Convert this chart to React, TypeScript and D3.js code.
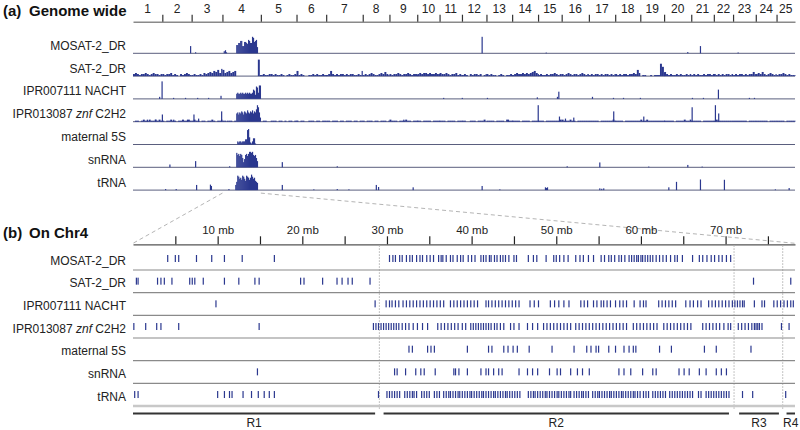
import React, { useEffect, useRef } from "react";
import * as d3 from "d3";

const WIDTH = 800;
const HEIGHT = 430;
const LEFT = 133;
const RIGHT = 795;
const FONT = "'Liberation Sans', Arial, Helvetica, sans-serif";
const BAR_COLOR = "#2b388f";

// zebrafish chromosomes and their sizes in Mb
const chromLabels = ["1", "2", "3", "4", "5", "6", "7", "8", "9", "10", "11", "12", "13",
  "14", "15", "16", "17", "18", "19", "20", "21", "22", "23", "24", "25"];
const chromLengths = [59.6, 59.6, 62.6, 78.1, 72.5, 60.3, 74.3, 54.3, 56.5, 45.4, 45.5, 49.8,
  52.2, 52.7, 48.0, 55.3, 53.5, 51.0, 48.4, 55.2, 45.9, 39.1, 46.2, 42.2, 37.5];

const trackNames = ["MOSAT-2_DR", "SAT-2_DR", "IPR007111 NACHT", "IPR013087 znf C2H2",
  "maternal 5S", "snRNA", "tRNA"];

// ---- (a) genome-wide density ----
// SAT-2_DR density, 4 Mb bins per chromosome
const satBins = [
  [2, 3, 2, 1, 2, 2, 3, 2, 1, 2, 3, 2, 2, 1, 2],
  [2, 1, 2, 2, 3, 1, 2, 1, 0, 2, 1, 2, 3, 2, 1],
  [1, 2, 1, 1, 2, 1, 3, 2, 3, 4, 3, 5, 4, 6, 3, 7],
  [6, 3, 4, 5, 3, 4, 5, 0, 0, 0, 0, 0, 0, 0, 0, 0, 0, 0, 16, 1],
  [1, 2, 1, 1, 2, 2, 1, 2, 1, 1, 2, 1, 0, 1, 2, 1, 1, 2, 1],
  [5, 1, 2, 1, 0, 0, 1, 1, 2, 1, 2, 1, 1, 2, 1, 1],
  [1, 2, 5, 2, 1, 2, 1, 2, 2, 1, 2, 1, 2, 2, 1, 1, 2, 1, 5],
  [1, 2, 1, 2, 3, 2, 1, 1, 2, 3, 2, 4, 2, 1],
  [2, 1, 2, 2, 3, 2, 1, 2, 2, 3, 2, 1, 2, 2, 1],
  [2, 3, 2, 3, 3, 2, 3, 2, 2, 3, 2, 2],
  [3, 2, 2, 3, 2, 1, 2, 2, 3, 1, 2, 1],
  [1, 2, 1, 0, 2, 1, 2, 2, 1, 2, 0, 1, 2],
  [2, 1, 2, 1, 1, 0, 1, 2, 1, 0, 1, 1, 2, 1],
  [1, 2, 3, 2, 2, 3, 2, 3, 2, 3, 4, 5, 3, 2],
  [1, 2, 1, 1, 2, 1, 2, 2, 3, 2, 1, 2],
  [2, 1, 2, 3, 2, 1, 2, 2, 1, 2, 3, 2, 1, 2],
  [1, 2, 1, 2, 2, 1, 2, 1, 2, 2, 1, 2, 1, 2],
  [2, 1, 2, 1, 2, 2, 1, 2, 2, 3, 2, 6, 3],
  [0, 1, 1, 0, 0, 1, 0, 1, 1, 1, 12, 9, 3],
  [4, 2, 1, 2, 1, 1, 2, 1, 2, 1, 1, 2, 1, 2],
  [1, 2, 1, 2, 1, 1, 2, 1, 2, 2, 1, 2],
  [2, 1, 2, 1, 2, 1, 2, 2, 1, 2],
  [1, 2, 1, 2, 2, 1, 2, 1, 2, 2, 4, 2],
  [2, 3, 2, 4, 2, 1, 2, 3, 2, 1, 2],
  [1, 2, 2, 3, 2, 1, 2, 1, 1, 1],
];

// znf C2H2 background density, 4 Mb bins per chromosome
const znfBins = [
  [0, 1, 1, 0, 1, 2, 1, 1, 2, 1, 1, 2, 1, 2, 1],
  [1, 0, 1, 1, 2, 1, 1, 0, 1, 1, 2, 1, 1, 2, 1],
  [1, 2, 1, 1, 0, 1, 1, 0, 1, 1, 2, 1, 0, 1, 1, 2],
  [1, 1, 0, 1, 1, 0, 1],
  [0, 1, 1, 0, 0, 1, 1, 1, 0, 1, 1, 0, 1, 0, 1, 1, 0, 1, 1],
  [1, 0, 1, 1, 0, 0, 1, 1, 1, 0, 1, 1, 0, 1, 1, 0],
  [1, 1, 0, 1, 1, 1, 0, 1, 1, 0, 1, 1, 1, 0, 1, 1, 0, 1, 1],
  [1, 0, 1, 1, 1, 0, 1, 1, 0, 1, 1, 1, 0, 1],
  [2, 1, 1, 1, 0, 1, 1, 1, 2, 1, 1, 0, 1, 1, 1],
  [1, 1, 0, 1, 1, 1, 1, 0, 1, 1, 1, 1],
  [1, 1, 1, 0, 1, 1, 1, 1, 0, 1, 1, 1],
  [1, 1, 0, 0, 1, 1, 1, 0, 1, 1, 1, 2],
  [1, 1, 1, 1, 0, 1, 1, 1, 1, 0, 2, 1, 1, 1],
  [1, 1, 1, 1, 0, 1, 1, 1, 1, 0, 1, 1, 1, 1],
  [1, 1, 1, 0, 1, 1, 1, 1, 1, 1, 1, 2],
  [2, 1, 1, 1, 2, 1, 1, 0, 1, 1, 1, 1, 1, 1],
  [1, 1, 1, 1, 1, 0, 1, 1, 1, 1, 1, 1, 2, 1],
  [1, 1, 1, 1, 0, 1, 1, 1, 1, 1, 1, 1, 1],
  [2, 1, 1, 2, 1, 1, 1, 1, 1, 1, 1, 1, 1],
  [1, 1, 1, 1, 1, 0, 1, 1, 1, 1, 2, 1, 1, 2],
  [1, 1, 1, 1, 1, 0, 1, 1, 1, 1, 1, 1],
  [1, 2, 1, 1, 1, 1, 1, 1, 1, 1],
  [1, 1, 1, 1, 1, 1, 1, 0, 1, 1, 1, 1],
  [1, 1, 1, 1, 1, 1, 0, 1, 1, 1, 1],
  [1, 1, 1, 1, 0, 1, 1, 1, 1, 1],
];

// isolated peaks: [chromosome, position Mb, density]
const mosatPeaks = [[2, 56.3, 7], [3, 6.9, 1], [4, 2.5, 2], [4, 5.0, 3], [4, 7.0, 1],
  [12, 39.8, 16], [15, 15.4, 0.7], [20, 46.9, 1.2], [21, 17.5, 7], [23, 9.1, 0.8]];
const nachtPeaks = [[1, 53, 2], [1, 57.9, 17], [2, 21.7, 1], [2, 46, 1], [3, 11, 1], [3, 33.3, 1],
  [3, 58.5, 3], [11, 7.1, 1], [11, 45, 1], [13, 0.8, 1], [14, 50, 1.5], [15, 38.2, 2], [15, 41, 7],
  [17, 6.1, 2], [17, 48.8, 1], [18, 15.7, 1], [18, 50, 1], [21, 1.2, 1], [21, 23.6, 1], [22, 8.1, 9],
  [23, 32, 1], [23, 42.3, 1]];
const znfPeaks = [[1, 28, 2], [1, 45, 2], [1, 58.5, 7], [2, 22, 2], [2, 50, 2], [3, 3.5, 7], [3, 13, 3],
  [3, 59.8, 10], [4, 9.3, 1], [9, 28, 2], [13, 43.5, 2], [14, 51.8, 16], [15, 42.3, 5], [16, 6.5, 3],
  [16, 23.4, 4], [17, 49.3, 10], [19, 5.9, 5], [21, 0.6, 14], [22, 2, 16], [22, 8.7, 8]];
const snrnaPeaks = [[2, 14.2, 2.7], [3, 6.9, 6], [4, 13.5, 1], [5, 42.4, 5], [7, 21.3, 1], [16, 10, 1],
  [17, 21, 4.7], [19, 16, 0.7], [20, 47, 2.3], [21, 21, 0.7]];
const trnaPeaks = [[2, 5.5, 1], [2, 27, 1], [3, 8.9, 5], [3, 37, 5.3], [3, 39, 4], [4, 12, 1],
  [5, 42.4, 5], [6, 34, 0.7], [7, 21.3, 1], [7, 45, 0.7], [8, 26.4, 5], [8, 31, 3], [9, 47, 2.7],
  [12, 39.8, 4], [13, 26, 0.7], [15, 13.8, 2.7], [15, 16, 2], [15, 18, 2.7], [17, 21, 1.7],
  [17, 25, 1.3], [17, 29, 1.7], [20, 8.4, 2.7], [20, 24, 8], [21, 17.5, 10.3], [22, 20.3, 10],
  [24, 38.6, 0.7], [25, 24.4, 2]];

// chr4 cluster densities, 2 Mb bins from the given start
const mosatChr4Start = 28;
const mosatChr4 = [8, 8, 10, 10, 12, 12, 7, 7, 11, 11, 10, 9, 13, 12, 10, 10, 16, 15, 11, 12, 13, 6];
const nachtChr4Start = 28;
const nachtChr4 = [5, 6, 5, 5, 6, 5, 6, 5, 5, 6, 5, 6, 5, 6, 5, 5, 6, 9, 8, 4, 12, 11, 6, 13, 13];
const znfChr4Start = 28;
const znfChr4 = [8, 9, 7, 9, 8, 10, 9, 7, 10, 9, 8, 11, 9, 8, 10, 9, 11, 8, 10, 9, 12, 16, 14, 9, 4];
const fiveSChr4Start = 30;
const fiveSChr4 = [3, 2, 3, 3, 2, 3, 3, 3, 5, 5, 14, 15, 7, 2, 1, 3, 6, 6, 1];
const snrnaChr4Start = 28;
const snrnaChr4 = [14, 12, 13, 11, 13, 12, 9, 5, 8, 12, 13, 11, 13, 15, 15, 14, 15, 12, 11, 12, 9, 6];
const trnaChr4Start = 26;
const trnaChr4 = [5, 8, 14, 13, 11, 12, 10, 14, 13, 11, 9, 14, 13, 12, 10, 12, 15, 13, 11, 12, 9, 8, 7];

// ---- (b) feature positions along chr4 (Mb) ----
const chr4Length = 78.2;
const chr4Mosat = [4.1, 5.0, 5.4, 7.5, 9.3, 10.8, 12.9, 16.7, 30.3, 30.7, 31.0, 31.5, 31.8, 32.3, 32.7,
  33.0, 33.5, 33.9, 34.2, 34.7, 35.1, 35.5, 36.1, 36.4, 36.6, 37.0, 37.5, 37.8, 38.3, 38.7, 39.0, 39.6,
  40.0, 40.4, 41.1, 41.4, 41.7, 42.1, 42.3, 42.7, 43.0, 43.4, 43.7, 44.0, 44.4, 45.0, 45.3, 46.7, 47.3,
  47.7, 48.8, 49.7, 50.0, 50.4, 50.9, 51.4, 52.3, 52.8, 53.2, 53.8, 54.4, 55.3, 55.7, 56.2, 56.5, 56.9,
  57.4, 57.7, 58.1, 58.6, 58.9, 59.2, 59.5, 59.7, 60.0, 60.2, 60.5, 60.8, 61.1, 61.4, 61.8, 62.2, 62.6,
  63.0, 63.5, 64.0, 64.3, 64.9, 66.1, 66.9, 67.3, 67.8, 68.3, 68.7, 69.2, 69.6, 70.1, 70.6];
const chr4Sat = [0.4, 0.6, 2.9, 3.3, 3.7, 4.6, 6.7, 7.0, 7.3, 8.3, 10.8, 12.5, 14.4, 14.9, 19.8, 20.2,
  22.4, 24.1, 24.7, 25.4, 25.9, 28.0, 73.3, 77.7];
const chr4Nacht = [9.8, 28.6, 29.9, 30.3, 30.6, 31.0, 31.4, 31.9, 32.3, 32.7, 33.1, 33.5, 33.9, 34.3,
  34.7, 35.1, 35.5, 35.9, 36.3, 36.7, 37.5, 37.9, 38.3, 38.7, 39.1, 39.5, 39.9, 40.3, 40.7, 41.7, 42.0,
  42.4, 42.8, 43.2, 43.6, 44.0, 44.4, 44.8, 45.2, 45.6, 46.9, 47.4, 47.9, 49.3, 49.8, 50.3, 50.9, 51.5,
  52.9, 53.3, 53.7, 54.4, 54.8, 55.3, 55.6, 56.0, 56.4, 57.0, 57.5, 57.9, 58.3, 59.2, 59.9, 60.3, 60.6,
  62.1, 62.5, 62.9, 63.3, 63.7, 64.1, 65.3, 65.8, 66.2, 66.7, 67.1, 68.0, 68.4, 68.8, 69.2, 69.6, 70.0,
  70.4, 70.8, 71.1, 71.4, 71.7, 72.0, 72.2, 73.4, 74.3, 74.6, 75.7, 76.1, 76.5, 76.9, 77.3, 77.7, 78.0];
const chr4Znf = [0.1, 1.5, 2.8, 3.3, 5.4, 14.9, 28.4, 28.7, 29.0, 29.3, 29.6, 29.9, 30.2, 30.5, 30.8,
  31.1, 31.4, 31.8, 32.2, 32.6, 33.1, 33.6, 34.2, 34.8, 36.0, 36.4, 36.8, 37.2, 37.6, 38.0, 38.4, 38.9,
  39.3, 39.9, 40.2, 40.5, 40.8, 41.1, 41.4, 41.7, 42.0, 42.3, 42.7, 43.0, 43.4, 43.8, 44.6, 45.0, 45.6,
  46.6, 47.2, 47.8, 48.5, 48.9, 49.3, 49.7, 50.1, 50.5, 50.9, 51.3, 51.7, 52.3, 52.7, 53.1, 53.5, 53.9,
  54.3, 54.7, 55.1, 55.5, 55.9, 56.3, 56.7, 57.1, 57.5, 57.9, 58.3, 59.1, 59.5, 59.9, 60.3, 60.7, 61.1,
  61.5, 61.9, 62.7, 63.1, 63.5, 63.9, 64.3, 64.7, 65.1, 65.5, 65.9, 67.3, 67.7, 68.1, 68.5, 68.9, 69.3,
  69.8, 70.3, 70.6, 71.5, 71.9, 72.3, 72.7, 73.1, 73.4, 73.6, 73.8, 74.0, 74.3, 76.6, 77.5];
const chr4FiveS = [32.6, 33.0, 34.8, 35.2, 35.6, 39.5, 42.0, 42.4, 43.8, 44.3, 44.9, 45.4, 46.8, 49.5,
  52.1, 53.6, 54.1, 54.7, 55.0, 56.2, 57.0, 58.0, 58.6, 59.1, 59.4, 62.2, 63.6, 67.5, 68.9, 73.0];
const chr4Snrna = [14.7, 30.9, 31.2, 32.2, 33.4, 34.0, 34.4, 35.7, 37.9, 38.1, 38.5, 39.5, 41.1, 41.7,
  42.0, 42.6, 43.2, 43.6, 45.6, 46.6, 47.2, 47.8, 49.2, 50.1, 50.5, 51.7, 52.5, 53.1, 53.9, 57.4, 58.0,
  58.8, 60.2, 61.4, 61.8, 64.5, 65.1, 65.7, 66.9, 67.7, 68.9, 69.5, 70.1];
const chr4Trna = [0.2, 0.6, 10.0, 10.8, 11.4, 11.7, 13.0, 14.0, 14.8, 15.5, 16.1, 16.7, 29.0, 30.0,
  30.3, 30.6, 30.9, 31.2, 31.5, 32.1, 32.4, 32.7, 33.0, 33.2, 33.5, 34.1, 34.4, 34.7, 35.0, 35.6, 35.9,
  36.2, 36.7, 37.0, 37.3, 37.5, 37.8, 38.1, 38.4, 38.6, 38.9, 39.2, 39.5, 39.8, 40.0, 40.3, 40.6, 40.9,
  41.2, 41.4, 41.7, 42.0, 42.3, 42.6, 42.8, 43.1, 43.4, 43.7, 44.0, 44.2, 44.5, 44.8, 45.1, 45.4, 45.7,
  46.7, 47.0, 47.3, 47.5, 47.8, 48.1, 48.4, 48.7, 48.9, 49.2, 49.5, 49.8, 50.1, 50.3, 50.6, 50.9, 51.2,
  51.5, 51.7, 52.1, 52.4, 52.7, 53.0, 53.2, 53.5, 53.8, 54.3, 54.6, 54.9, 55.1, 55.4, 55.7, 56.0, 56.3,
  56.5, 56.8, 57.1, 57.4, 57.7, 57.9, 58.2, 58.5, 58.8, 59.1, 59.3, 59.6, 59.9, 60.3, 60.6, 60.9, 61.4,
  61.7, 62.0, 62.3, 62.6, 62.9, 63.4, 63.7, 64.0, 64.3, 64.6, 64.9, 65.2, 65.5, 65.8, 66.1, 66.8, 67.1,
  67.7, 68.0, 68.3, 68.6, 68.9, 69.2, 69.5, 69.8, 70.1, 70.4, 72.0, 73.2, 77.1];

const chr4Ticks = [5, 10, 15, 20, 25, 30, 35, 40, 45, 50, 55, 60, 65, 70, 75];

const regionNames = ["R1", "R2", "R3", "R4"];
const regionStarts = [0, 29.6, 71.6, 77.2];
const regionEnds = [28.6, 70.4, 76.3, 78.2];

type Bar = [number, number, number, number]; // chr, start Mb, value, width Mb

const fromBins = (rows: number[][], size: number): Bar[] =>
  rows.flatMap((vals, ci) => vals.map((v, i) => [ci + 1, i * size, v, size] as Bar));
const fromPeaks = (rows: number[][]): Bar[] => rows.map(([c, p, v]) => [c, p, v, 2] as Bar);
const fromChr4 = (start: number, vals: number[]): Bar[] =>
  vals.map((v, i) => [4, start + i * 2, v, 2] as Bar);

const App = () => {
  const svgRef = useRef<SVGSVGElement>(null);

  useEffect(() => {
    const svg = d3.select(svgRef.current);
    svg.selectAll("*").remove();

    svg.append("rect").attr("width", WIDTH).attr("height", HEIGHT).attr("fill", "#fff");

    const offsets = [0, ...Array.from(d3.cumsum(chromLengths))];
    const total = offsets[offsets.length - 1];
    const xG = d3.scaleLinear().domain([0, total]).range([LEFT, RIGHT]);
    const hScale = d3.scaleLinear().domain([0, 16]).range([0, 16.5]);

    const title = (x: number, y: number, tag: string, text: string) => {
      const g = svg.append("g").style("font-family", FONT).style("font-weight", "bold")
        .style("font-size", "15px").attr("fill", "#111");
      g.append("text").attr("x", x).attr("y", y).text(tag);
      g.append("text").attr("x", x + 26).attr("y", y).text(text);
    };

    const trackLabel = (y: number, name: string) => {
      const t = svg.append("text").attr("x", 126).attr("y", y).attr("text-anchor", "end")
        .style("font-family", FONT).style("font-size", "12px").attr("fill", "#222");
      name.split(" ").forEach((word, i) => {
        t.append("tspan").style("font-style", word === "znf" ? "italic" : "normal")
          .text((i > 0 ? " " : "") + word);
      });
    };

    // ---------- (a) Genome wide ----------
    title(3, 16, "(a)", "Genome wide");

    const A_AXIS_Y = 21.7;
    const boundaries = offsets.slice(1, -1);
    const axisA = svg.append("g").attr("transform", `translate(0,${A_AXIS_Y})`)
      .call(d3.axisTop(xG).tickValues(boundaries).tickSize(7).tickSizeOuter(0).tickFormat(() => ""));
    axisA.select(".domain").attr("stroke", "#8a8a8a").attr("stroke-width", 1.6);
    axisA.selectAll(".tick line").attr("stroke", "#333").attr("stroke-width", 1.2);

    svg.append("g").selectAll("text").data(chromLabels).enter().append("text")
      .attr("x", (_, i) => xG(offsets[i] + chromLengths[i] / 2))
      .attr("y", 12.5)
      .attr("text-anchor", "middle")
      .style("font-family", FONT).style("font-size", "12px").attr("fill", "#222")
      .text((d) => d);

    const tracksA: Bar[][] = [
      [...fromPeaks(mosatPeaks), ...fromChr4(mosatChr4Start, mosatChr4)],
      fromBins(satBins, 4),
      [...fromPeaks(nachtPeaks), ...fromChr4(nachtChr4Start, nachtChr4)],
      [...fromBins(znfBins, 4), ...fromPeaks(znfPeaks), ...fromChr4(znfChr4Start, znfChr4)],
      fromChr4(fiveSChr4Start, fiveSChr4),
      [...fromPeaks(snrnaPeaks), ...fromChr4(snrnaChr4Start, snrnaChr4)],
      [...fromPeaks(trnaPeaks), ...fromChr4(trnaChr4Start, trnaChr4)],
    ];

    const A_BASE0 = 53.3;
    const A_STEP = 22.8;
    tracksA.forEach((bars, ti) => {
      const base = A_BASE0 + ti * A_STEP;
      trackLabel(base - 3.5, trackNames[ti]);
      svg.append("line").attr("x1", LEFT).attr("x2", RIGHT).attr("y1", base).attr("y2", base)
        .attr("stroke", "#5a5e7e").attr("stroke-width", 1);
      svg.append("g").selectAll("rect").data(bars.filter((b) => b[2] > 0)).enter().append("rect")
        .attr("x", (b) => xG(offsets[b[0] - 1] + b[1]))
        .attr("width", (b) => {
          const end = Math.min(b[1] + b[3], chromLengths[b[0] - 1]);
          return Math.max(xG(offsets[b[0] - 1] + end) - xG(offsets[b[0] - 1] + b[1]), 1.2);
        })
        .attr("y", (b) => base - hScale(b[2]))
        .attr("height", (b) => hScale(b[2]))
        .attr("fill", BAR_COLOR);
    });

    // ---------- (b) On Chr4 ----------
    const xC = d3.scaleLinear().domain([0, chr4Length]).range([LEFT, RIGHT]);
    const B_AXIS_Y = 244.3;

    // zoom guides from chr4 in (a) to the (b) axis
    const guideTop = A_BASE0 + 6 * A_STEP + 3;
    [[offsets[3], 0], [offsets[4], chr4Length]].forEach(([g, c]) => {
      svg.append("line")
        .attr("x1", xG(g)).attr("y1", guideTop)
        .attr("x2", xC(c)).attr("y2", B_AXIS_Y - 1)
        .attr("stroke", "#b5b5b5").attr("stroke-width", 1).attr("stroke-dasharray", "4,3");
    });

    title(3, 237.5, "(b)", "On Chr4");

    const axisB = svg.append("g").attr("transform", `translate(0,${B_AXIS_Y})`)
      .call(d3.axisTop(xC).tickValues(chr4Ticks).tickSize(8).tickSizeOuter(0).tickPadding(2)
        .tickFormat((d) => ((d as number) % 10 === 0 ? `${d} mb` : "")));
    axisB.select(".domain").attr("stroke", "#555").attr("stroke-width", 1.3);
    axisB.selectAll(".tick line").attr("stroke", "#222").attr("stroke-width", 1.2);
    axisB.selectAll(".tick text").style("font-family", FONT).style("font-size", "11.5px")
      .attr("fill", "#222");

    const tracksB = [chr4Mosat, chr4Sat, chr4Nacht, chr4Znf, chr4FiveS, chr4Snrna, chr4Trna];
    const B_LINE0 = 270;
    const B_STEP = 22.67;

    // region boundaries
    regionStarts.slice(1).forEach((s, i) => {
      const mid = (s + regionEnds[i]) / 2;
      svg.append("line").attr("x1", xC(mid)).attr("x2", xC(mid))
        .attr("y1", B_AXIS_Y + 1).attr("y2", B_LINE0 + 6 * B_STEP + 4)
        .attr("stroke", "#b0b0b0").attr("stroke-width", 1).attr("stroke-dasharray", "1.5,1.5");
    });

    tracksB.forEach((pos, ti) => {
      const line = B_LINE0 + ti * B_STEP;
      trackLabel(line - 5.5, trackNames[ti]);
      const last = ti === tracksB.length - 1;
      svg.append("line").attr("x1", LEFT).attr("x2", RIGHT).attr("y1", line).attr("y2", line)
        .attr("stroke", last ? "#c8c8c8" : "#8a8a8a").attr("stroke-width", last ? 2.6 : 1.2);
      svg.append("g").selectAll("rect").data(pos).enter().append("rect")
        .attr("x", (d) => xC(d) - 0.6)
        .attr("width", 1.2)
        .attr("y", line - 15)
        .attr("height", 7)
        .attr("fill", BAR_COLOR);
    });

    // regions R1-R4
    const REGION_Y = 413.5;
    regionNames.forEach((name, i) => {
      svg.append("line").attr("x1", xC(regionStarts[i])).attr("x2", xC(regionEnds[i]))
        .attr("y1", REGION_Y).attr("y2", REGION_Y).attr("stroke", "#333").attr("stroke-width", 2);
      svg.append("text")
        .attr("x", xC((regionStarts[i] + regionEnds[i]) / 2)).attr("y", 426.5)
        .attr("text-anchor", "middle")
        .style("font-family", FONT).style("font-size", "12px").attr("fill", "#222")
        .text(name);
    });
  }, []);

  return (
    <svg ref={svgRef} width={WIDTH} height={HEIGHT}
      style={{ position: "absolute", left: 0, top: 0, display: "block" }} />
  );
};

export default App;
